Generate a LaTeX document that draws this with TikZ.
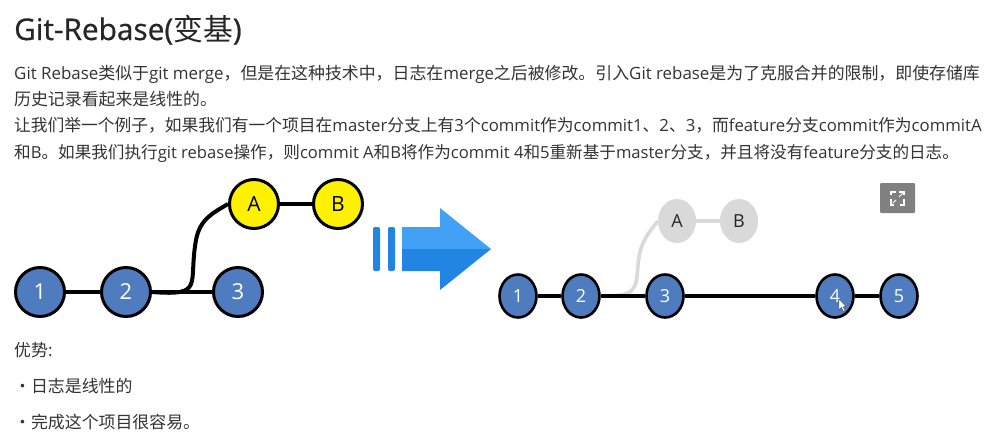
\documentclass[tikz,border=0pt]{standalone}
\usepackage{fontspec}
\usetikzlibrary{shapes.geometric}
\setmainfont{Open Sans}
\newfontfamily\cjk{Noto Sans CJK SC}
\newfontfamily\titlefont[FakeBold=0.7]{Open Sans}
\newfontfamily\titlecjk{Noto Sans CJK SC}
\newcommand{\zh}[1]{{\cjk #1}}
\definecolor{bodytext}{HTML}{333333}
\definecolor{commitblue}{HTML}{4F7CBE}
\definecolor{ghost}{HTML}{D9D9D9}
\definecolor{arrowlight}{HTML}{42A0F5}
\definecolor{arrowdark}{HTML}{2285E3}
\definecolor{btn}{HTML}{808080}
\tikzset{
  x=1pt,y=-1pt,
  line/.style={anchor=base west,inner sep=0pt,text=bodytext,font=\fontsize{16.9}{18}\selectfont},
  bluebig/.style={circle,draw=black,line width=3pt,fill=commitblue,text=white,minimum size=49pt,inner sep=0pt,font=\fontsize{22}{24}\selectfont},
  yellowbig/.style={circle,draw=black,line width=3pt,fill=yellow,text=black,minimum size=49pt,inner sep=0pt,font=\fontsize{21}{24}\selectfont},
  bluesmall/.style={ellipse,draw=black,line width=2.6pt,fill=commitblue,text=white,minimum width=37pt,minimum height=43pt,inner sep=0pt,font=\fontsize{18}{20}\selectfont},
  ghostnode/.style={ellipse,fill=ghost,text=black!85,minimum width=38pt,minimum height=44pt,inner sep=0pt,font=\fontsize{18}{20}\selectfont},
  wire/.style={line width=4pt,black},
  ghostwire/.style={line width=3.6pt,ghost},
}
\begin{document}
\begin{tikzpicture}
\useasboundingbox[fill=white] (0,0) rectangle (989,437);

\node[line,text=black!85,font=\fontsize{29.8}{32}\selectfont] (title) at (14,40) {\titlefont Git-Rebase(\titlecjk 变基\titlefont )};
\node[line] (p1) at (14,79) {Git Rebase\zh{类似于}git merge\zh{，但是在这种技术中，日志在}merge\zh{之后被修改。引入}Git rebase\zh{是为了克服合并的限制，即使存储库}};
\node[line] (p2) at (14,105) {\zh{历史记录看起来是线性的。}};
\node[line,font=\fontsize{16.75}{18}\selectfont] (p3) at (14,131) {\zh{让我们举一个例子，如果我们有一个项目在}master\zh{分支上有}3\zh{个}commit\zh{作为}commit1\zh{、}2\zh{、}3\zh{，而}feature\zh{分支}commit\zh{作为}commitA};
\node[line,font=\fontsize{16.6}{18}\selectfont] (p4) at (14,158) {\zh{和}B\zh{。如果我们执行}git rebase\zh{操作，则}commit A\zh{和}B\zh{将作为}commit 4\zh{和}5\zh{重新基于}master\zh{分支，并且将没有}feature\zh{分支的日志。}};
\node[line] (adv) at (14,356) {\zh{优势}:};
\node[line] (b1) at (14,392) {\zh{・日志是线性的}};
\node[line] (b2) at (14,428) {\zh{・完成这个项目很容易。}};

\node[bluebig] (l1) at (40,292) {1};
\node[bluebig] (l2) at (126,292) {2};
\node[bluebig] (l3) at (238,292) {3};
\node[yellowbig] (la) at (254,204) {A};
\node[yellowbig] (lb) at (338,204) {B};
\draw[wire] (l1) -- (l2);
\draw[wire] (l2) -- (l3);
\draw[wire] (la) -- (lb);
\draw[wire] (l2.east) .. controls (205,296) and (188,285) .. (196,240) .. controls (200,218) and (215,212) .. (la.west);

% arrow
\fill[arrowdark,rounded corners=2pt] (373,227) rectangle (380,271);
\fill[arrowdark,rounded corners=2pt] (388,227) rectangle (395,271);
\fill[arrowlight] (402,227) -- (440,227) -- (440,208) -- (491,249) -- (402,249) -- cycle;
\fill[arrowdark] (402,249) -- (491,249) -- (440,290) -- (440,271) -- (402,271) -- cycle;

% right graph
\node[ghostnode] (ra) at (677,221) {A};
\node[ghostnode] (rb) at (739,221) {B};
\draw[ghostwire] (ra) -- (rb);
\node[bluesmall] (r1) at (518,296) {1};
\node[bluesmall] (r2) at (581,296) {2};
\node[bluesmall] (r3) at (665,296) {3};
\node[bluesmall] (r4) at (835,296) {4};
\node[bluesmall] (r5) at (899,296) {5};
\draw[ghostwire] (r2.east) .. controls (635,296) and (636,292) .. (638,265) .. controls (640,240) and (650,232) .. (ra.west);
\draw[wire] (r1) -- (r2);
\draw[wire] (r2) -- (r3);
\draw[wire] (r3) -- (r4);
\draw[wire] (r4) -- (r5);

% expand button
\fill[btn,rounded corners=1pt] (880,183) rectangle (915,213);
\draw[white,line width=1.1pt] (891,199) -- (891,205) -- (894,205);
\draw[white,line width=1.1pt] (900,205) -- (904,205) -- (904,199);
\draw[white,line width=1.1pt] (891,195) -- (891,192) -- (896,192);
\draw[white,line width=1.1pt] (899,192) -- (904,192) -- (904,195);
\draw[white,line width=1pt] (893,203) -- (896,200);
\draw[white,line width=1pt] (899,197) -- (903,193);

% mouse pointer
\fill[white,draw=black!70,line width=.4pt] (839,299) -- (839,310) -- (841.5,307.5) -- (843.5,311.5) -- (845,310.5) -- (843.2,306.8) -- (846,306.5) -- cycle;
\end{tikzpicture}
\end{document}
